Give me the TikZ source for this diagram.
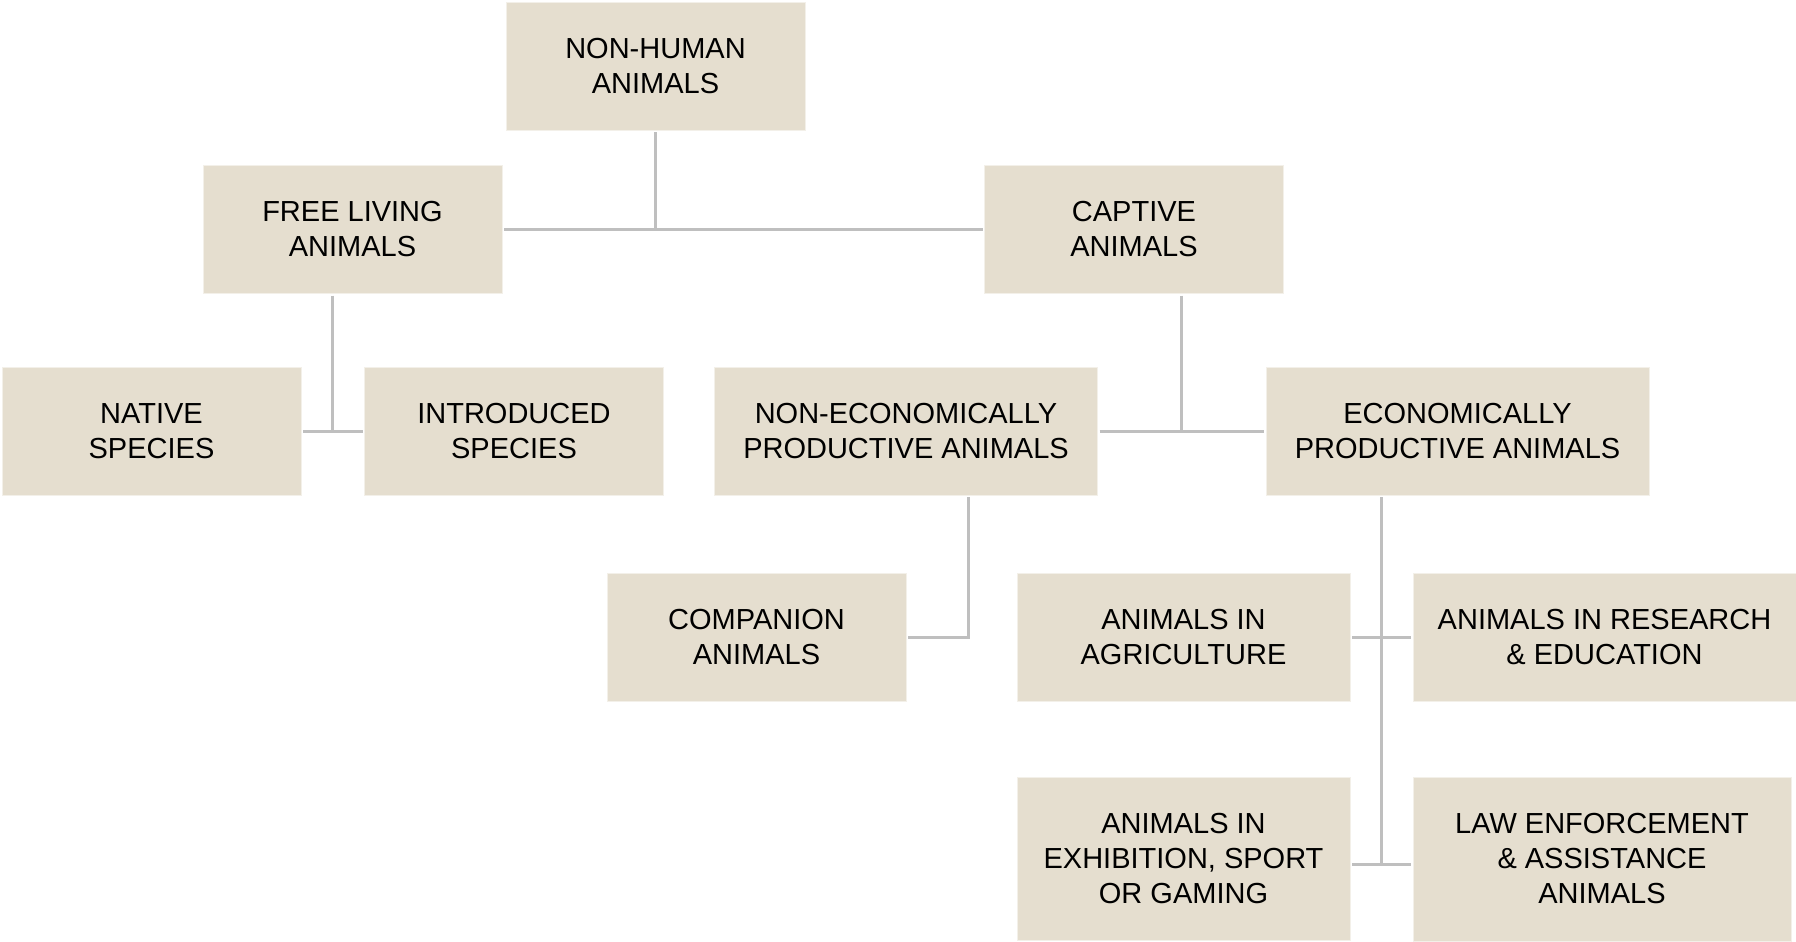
\documentclass[tikz,border=0pt]{standalone}
\usepackage{fontspec}
\setmainfont{Liberation Sans}
\usetikzlibrary{positioning,calc}
\definecolor{boxfill}{HTML}{E5DECF}
\definecolor{linkgray}{HTML}{BFBFBF}

\begin{document}
\begin{tikzpicture}[x=0.5pt, y=-0.5pt,
  catbox/.style={fill=boxfill, draw=white!55!boxfill, line width=0.5pt, rectangle,
                 minimum width=149.5pt, minimum height=64pt, inner sep=0pt,
                 outer sep=1pt, align=center, font=\fontsize{14.5}{17.5}\selectfont},
  widebox/.style={catbox, minimum width=191.5pt},
  midbox/.style={catbox, minimum width=166.5pt},
  link/.style={draw=linkgray, line width=1.5pt}
]
  \useasboundingbox (0,0) rectangle (1796,942);

  % top level
  \node[catbox] (human)   at (655.5,66)   {NON-HUMAN\\ANIMALS};
  \node[catbox] (free)    at (352.5,229.5) {FREE LIVING\\ANIMALS};
  \node[catbox] (captive) at (1134,229.5)  {CAPTIVE\\ANIMALS};

  % second level
  \node[catbox]  (native)     at (151.5,431) {NATIVE\\SPECIES};
  \node[catbox]  (introduced) at (514,431)   {INTRODUCED\\SPECIES};
  \node[widebox] (noneco)     at (906,431)   {NON-ECONOMICALLY\\PRODUCTIVE ANIMALS};
  \node[widebox] (eco)        at (1457.5,431) {ECONOMICALLY\\PRODUCTIVE ANIMALS};

  % third level
  \node[catbox]  (companion) at (756.5,637)  {COMPANION\\ANIMALS};
  \node[midbox]  (agri)      at (1183.5,637) {ANIMALS IN\\AGRICULTURE};
  \node[widebox] (research)  at (1604.5,637) {ANIMALS IN RESEARCH\\\& EDUCATION};
  \node[midbox, minimum height=81.5pt] (exhib) at (1183.5,859)
        {ANIMALS IN\\EXHIBITION, SPORT\\OR GAMING};
  \node[widebox, minimum width=189pt, minimum height=82pt] (law) at (1602,859)
        {LAW ENFORCEMENT\\\& ASSISTANCE\\ANIMALS};

  % connectors
  \draw[link] (free.east) -- (captive.west);
  \draw[link] (human.south) -- (human.south |- free.east);

  \coordinate (fsplit) at ($(native.east)!0.5!(introduced.west)$);
  \draw[link] (native.east) -- (introduced.west);
  \draw[link] (fsplit |- free.south) -- (fsplit);

  \coordinate (csplit) at ($(noneco.east)!0.5!(eco.west)$);
  \draw[link] (noneco.east) -- (eco.west);
  \draw[link] (csplit |- captive.south) -- (csplit);

  \draw[link] ($(noneco.south)+(62,0)$) |- (companion.east);

  \coordinate (esplit) at ($(agri.east)!0.5!(research.west)$);
  \coordinate (elow) at ([yshift=-2.5pt]exhib.east);
  \draw[link] (agri.east) -- (research.west);
  \draw[link] (elow) -- (elow -| law.west);
  \draw[link] (esplit |- eco.south) -- (esplit |- elow);
\end{tikzpicture}
\end{document}
